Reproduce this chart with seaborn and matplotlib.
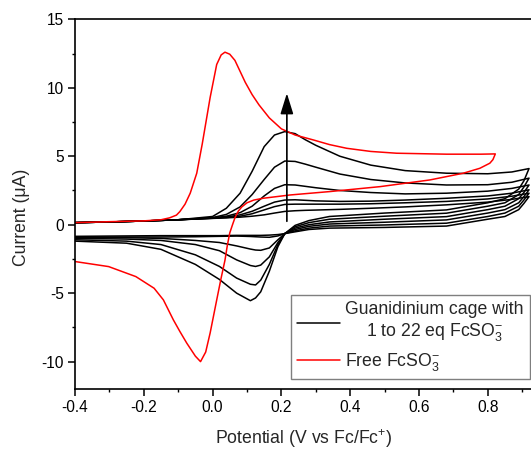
import numpy as np
import pandas as pd
import matplotlib
matplotlib.use("Agg")
import matplotlib.pyplot as plt
from matplotlib.lines import Line2D
from matplotlib.ticker import MultipleLocator
import seaborn as sns

# ---------------- data ----------------
# Free FcSO3- : forward (anodic) sweep then reverse sweep
red_fwd_x = [-0.4, -0.3, -0.2, -0.15, -0.125, -0.105, -0.095, -0.08, -0.065, -0.046,
             -0.03, -0.007, 0.012, 0.025, 0.036, 0.05, 0.065, 0.08, 0.095, 0.115,
             0.135, 0.165, 0.2, 0.24, 0.293, 0.34, 0.39, 0.46, 0.535, 0.68, 0.78, 0.822]
red_fwd_y = [0.15, 0.22, 0.28, 0.36, 0.5, 0.7, 0.96, 1.5, 2.3, 3.76,
             5.9, 9.3, 11.7, 12.4, 12.6, 12.45, 12.0, 11.2, 10.4, 9.5,
             8.75, 7.8, 7.0, 6.55, 6.19, 5.85, 5.58, 5.35, 5.22, 5.15, 5.15, 5.17]
red_rev_x = [0.815, 0.806, 0.777, 0.729, 0.632, 0.487, 0.341, 0.225, 0.147, 0.12,
             0.1, 0.085, 0.075, 0.065, 0.058, 0.05, 0.043, 0.036, 0.024, 0.012,
             -0.007, -0.02, -0.035, -0.05, -0.075, -0.095, -0.114, -0.143, -0.17,
             -0.223, -0.302, -0.4]
red_rev_y = [4.75, 4.49, 4.12, 3.76, 3.27, 2.78, 2.42, 2.17, 1.93, 1.8,
             1.6, 1.3, 1.0, 0.5, 0.0, -0.6, -1.5, -2.6, -4.0, -5.5,
             -7.9, -9.3, -10.0, -9.6, -8.65, -7.8, -6.95, -5.49, -4.64,
             -3.79, -3.06, -2.69]

# Guanidinium cage with 1 to 22 eq FcSO3- (six titration curves)
fwd_x = [-0.4, -0.3, -0.2, -0.1, 0.0, 0.04, 0.08, 0.115, 0.15, 0.18, 0.21,
         0.24, 0.27, 0.3, 0.37, 0.46, 0.56, 0.68, 0.8, 0.87, 0.92]
fwd_c1 = [0.15, 0.2, 0.27, 0.36, 0.46, 0.5, 0.55, 0.62, 0.72, 0.85, 0.97,
          1.02, 1.05, 1.07, 1.12, 1.2, 1.3, 1.45, 1.65, 1.85, 2.05]
fwd_c2 = [0.15, 0.2, 0.27, 0.36, 0.47, 0.52, 0.62, 0.8, 1.08, 1.32, 1.48,
          1.5, 1.5, 1.5, 1.5, 1.53, 1.6, 1.7, 1.88, 2.08, 2.3]
fwd_c3 = [0.15, 0.2, 0.27, 0.36, 0.48, 0.56, 0.72, 0.98, 1.35, 1.65, 1.8,
          1.82, 1.78, 1.74, 1.7, 1.72, 1.8, 1.93, 2.1, 2.3, 2.55]
fwd_c4 = [0.15, 0.2, 0.27, 0.36, 0.5, 0.62, 0.88, 1.35, 2.1, 2.65, 2.92,
          2.9, 2.8, 2.7, 2.5, 2.35, 2.25, 2.3, 2.45, 2.65, 2.9]
fwd_c5 = [0.15, 0.2, 0.27, 0.36, 0.52, 0.75, 1.3, 2.2, 3.3, 4.2, 4.65,
          4.62, 4.42, 4.2, 3.7, 3.3, 3.05, 2.9, 2.92, 3.1, 3.4]
fwd_c6 = [0.15, 0.2, 0.27, 0.36, 0.6, 1.2, 2.3, 3.9, 5.7, 6.55, 6.8,
          6.65, 6.2, 5.8, 5.0, 4.35, 3.95, 3.76, 3.72, 3.85, 4.1]

rev_x = [0.92, 0.905, 0.89, 0.85, 0.8, 0.68, 0.5, 0.34, 0.28, 0.24, 0.21, 0.19,
         0.165, 0.14, 0.125, 0.11, 0.07, 0.02, -0.05, -0.15, -0.25, -0.4]
rev_c1 = [2.05, 1.55, 1.1, 0.6, 0.4, -0.1, -0.2, -0.25, -0.35, -0.52, -0.65, -0.72,
          -0.76, -0.78, -0.78, -0.78, -0.78, -0.8, -0.8, -0.8, -0.82, -0.85]
rev_c2 = [2.3, 1.8, 1.35, 0.85, 0.6, 0.11, -0.02, -0.1, -0.25, -0.45, -0.65, -0.82,
          -0.92, -0.9, -0.88, -0.86, -0.83, -0.85, -0.88, -0.9, -0.9, -0.9]
rev_c3 = [2.55, 2.05, 1.6, 1.1, 0.85, 0.35, 0.18, 0.05, -0.12, -0.35, -0.65, -1.1,
          -1.7, -1.87, -1.85, -1.78, -1.55, -1.3, -1.15, -1.0, -0.95, -0.95]
rev_c4 = [2.9, 2.35, 1.9, 1.35, 1.1, 0.59, 0.4, 0.2, 0.0, -0.25, -0.65, -1.3,
          -2.35, -2.95, -3.05, -2.98, -2.57, -1.9, -1.45, -1.15, -1.05, -1.0]
rev_c5 = [3.4, 2.75, 2.2, 1.6, 1.35, 0.84, 0.62, 0.4, 0.15, -0.15, -0.65, -1.45,
          -2.9, -4.05, -4.4, -4.35, -3.9, -3.05, -2.2, -1.45, -1.2, -1.1]
rev_c6 = [4.1, 3.2, 2.6, 1.9, 1.6, 1.08, 0.85, 0.6, 0.3, -0.05, -0.65, -1.6,
          -3.4, -4.9, -5.35, -5.55, -5.0, -4.0, -2.9, -1.8, -1.35, -1.2]

cage_label = "Guanidinium cage with\n1 to 22 eq FcSO$_3^{-}$"
free_label = "Free FcSO$_3^{-}$"
x_label = "Potential (V vs Fc/Fc$^{+}$)"
y_label = "Current (\u03bcA)"

# ---------------- style ----------------
sns.set_style("ticks")
plt.rcParams["font.family"] = ["Liberation Sans", "DejaVu Sans"]
plt.rcParams["mathtext.fontset"] = "custom"
plt.rcParams["mathtext.rm"] = "Liberation Sans"
plt.rcParams["mathtext.it"] = "Liberation Sans"
plt.rcParams["mathtext.bf"] = "Liberation Sans"
plt.rcParams["axes.unicode_minus"] = False

fig = plt.figure(figsize=(5.31, 4.49), dpi=100)
ax = fig.add_axes([0.1412, 0.1336, 0.881, 0.8234])

cages = []
fwd_all = [fwd_c1, fwd_c2, fwd_c3, fwd_c4, fwd_c5, fwd_c6]
rev_all = [rev_c1, rev_c2, rev_c3, rev_c4, rev_c5, rev_c6]
for i, (fy, ry) in enumerate(zip(fwd_all, rev_all)):
    xs = fwd_x + rev_x
    ys = fy + ry
    cages.append(pd.DataFrame({"E": xs, "I": ys, "curve": i}))
cage_df = pd.concat(cages, ignore_index=True)
free_df = pd.DataFrame({"E": red_fwd_x + red_rev_x, "I": red_fwd_y + red_rev_y})

sns.lineplot(data=cage_df, x="E", y="I", units="curve", estimator=None, sort=False,
             color="black", lw=1.1, ax=ax, legend=False)
sns.lineplot(data=free_df, x="E", y="I", sort=False, estimator=None,
             color="#ff0000", lw=1.1, ax=ax, legend=False)

# arrow indicating increasing equivalents
ax.annotate("", xy=(0.216, 9.6), xytext=(0.216, 0.25),
            arrowprops=dict(arrowstyle="-|>,head_length=0.9,head_width=0.28",
                            color="black", lw=1.2, mutation_scale=14,
                            shrinkA=0, shrinkB=0))

ax.set_xlim(-0.4, 0.96)
ax.set_ylim(-12, 15)
ax.xaxis.set_minor_locator(MultipleLocator(0.1))
ax.yaxis.set_minor_locator(MultipleLocator(2.5))
ax.set_xticks([-0.4, -0.2, 0.0, 0.2, 0.4, 0.6, 0.8])
ax.set_xticklabels(["-0.4", "-0.2", "0.0", "0.2", "0.4", "0.6", "0.8"])
ax.set_yticks([-10, -5, 0, 5, 10, 15])
ax.set_yticklabels(["-10", "-5", "0", "5", "10", "15"])
ax.tick_params(which="major", direction="out", length=5, width=1.1,
               labelsize=11.2, colors="black", pad=3)
ax.tick_params(which="minor", direction="out", length=2.5, width=1.0, colors="black")
for s in ["left", "bottom", "top"]:
    ax.spines[s].set_linewidth(1.2)
    ax.spines[s].set_color("black")
ax.spines["right"].set_visible(False)

ax.set_xlabel(x_label, fontsize=12.7)
ax.set_ylabel(y_label, fontsize=12.7)
ax.xaxis.set_label_coords(0.489, -0.104)
ax.yaxis.set_label_coords(-0.096, 0.465)

handles = [Line2D([0], [0], color="black", lw=1.1),
           Line2D([0], [0], color="#ff0000", lw=1.1)]
leg = ax.legend(handles, [cage_label, free_label], loc="lower left",
                bbox_to_anchor=(0.462, 0.026), fontsize=12.7, frameon=True,
                fancybox=False, edgecolor="#7f7f7f", framealpha=1,
                handlelength=2.4, handletextpad=0.3, borderpad=0.35,
                labelspacing=0.45, borderaxespad=0)
leg.get_frame().set_linewidth(1.0)
leg.get_texts()[0].set_multialignment("center")

fig.savefig("out.png", dpi=100)
